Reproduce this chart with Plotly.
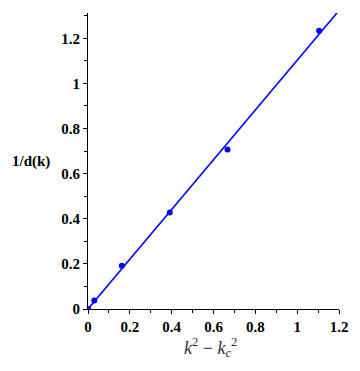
import plotly.graph_objects as go

# measured points
k2_minus_kc2 = [0.0, 0.03, 0.162, 0.391, 0.667, 1.105]
inv_d = [0.0, 0.038, 0.192, 0.428, 0.707, 1.233]

# fitted line
fit_x = [0.0, 1.2]
fit_y = [0.0, 1.323]

x_ticks = [0, 0.2, 0.4, 0.6, 0.8, 1, 1.2]
y_ticks = [0, 0.2, 0.4, 0.6, 0.8, 1, 1.2]

blue = "#0000ff"
tick_font = dict(family="Liberation Serif", size=15, color="#000000", weight="bold")

fig = go.Figure()
fig.add_trace(go.Scatter(x=fit_x, y=fit_y, mode="lines",
                         line=dict(color=blue, width=1.6), showlegend=False))
fig.add_trace(go.Scatter(x=k2_minus_kc2, y=inv_d, mode="markers",
                         marker=dict(color=blue, size=6), showlegend=False))

axis_common = dict(showline=True, linecolor="#000000", linewidth=1,
                   showgrid=False, zeroline=False, ticks="outside",
                   ticklen=4, tickcolor="#000000", tickfont=tick_font,
                   minor=dict(ticks="outside", ticklen=3, dtick=0.1,
                              tickcolor="#000000"))

fig.update_layout(
    width=360, height=371,
    margin=dict(l=88, r=18, t=13, b=62),
    plot_bgcolor="white", paper_bgcolor="white",
    xaxis=dict(range=[0, 1.2], tickvals=x_ticks, **axis_common),
    yaxis=dict(range=[0, 1.312], tickvals=y_ticks, **axis_common),
    annotations=[
        dict(text="<b>1/d(k)</b>", xref="paper", yref="paper",
             x=-0.142, y=0.5, xanchor="right", showarrow=False,
             font=dict(family="Liberation Serif", size=15, color="#000000")),
        dict(text="<i>k</i><sup>2</sup> \u2212 <i>k</i><sub><i>c</i></sub><sup>2</sup>",
             xref="paper", yref="paper", x=0.49, y=-0.13, yanchor="middle",
             showarrow=False,
             font=dict(family="Liberation Serif", size=18, color="#333333")),
    ],
)

fig.write_html("out.html", config={"displayModeBar": False},
               post_script="document.body.style.margin='0';")
